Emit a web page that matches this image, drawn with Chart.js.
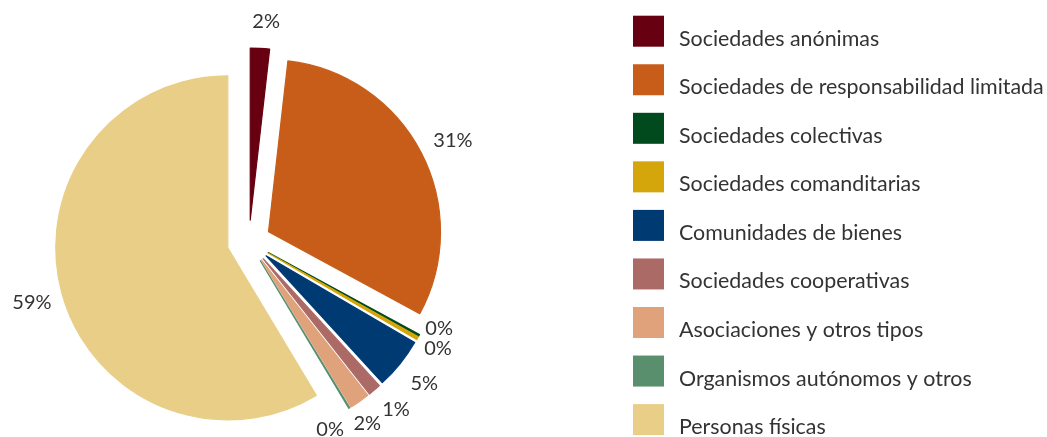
<!DOCTYPE html>
<html>
<head>
<meta charset="utf-8">
<script src="https://cdn.jsdelivr.net/npm/chart.js@4.4.1/dist/chart.umd.min.js"></script>
<style>
html,body{margin:0;padding:0;background:#ffffff;overflow:hidden;}
canvas{display:block;}
</style>
</head>
<body>
<canvas id="c" width="1047" height="437"></canvas>
<script>
// ---- data ----
const categories = [
  'Sociedades anónimas',
  'Sociedades de responsabilidad limitada',
  'Sociedades colectivas',
  'Sociedades comanditarias',
  'Comunidades de bienes',
  'Sociedades cooperativas',
  'Asociaciones y otros tipos',
  'Organismos autónomos y otros',
  'Personas físicas'
];
const shares = [1.8, 31.1, 0.2, 0.3, 4.8, 1.2, 1.9, 0.1, 58.6];
const colors = ['#670010', '#c85d19', '#004a1e', '#d4a60b', '#003a73', '#ac6a66', '#e0a27b', '#5a8f6e', '#e8ce87'];

// ---- layout / style ----
const PIE_RADIUS = 172;     // radius of every slice
const EXPLODE = 22;         // distance each slice is pulled out along its bisector
const labelAngleNudge = [1.2, 1.2, -4.3, -0.4, 0.1, -0.9, 1.7, 7.7, -0.2];
const labelDist = [221, 227.6, 209, 216.7, 225.4, 223.2, 217, 204, 225.4];
const FONT = 'Lato, "Open Sans", "DejaVu Sans", sans-serif';

function pieCenter(chart) {
  const a = chart.chartArea;
  return { x: (a.left + a.right) / 2, y: (a.top + a.bottom) / 2 };
}

// Excel-style explosion: move every slice outward along its bisector, keeping its angle and radius
const explode = {
  id: 'explode',
  afterDatasetUpdate(chart, args) {
    const c = pieCenter(chart);
    args.meta.data.forEach((arc) => {
      const mid = (arc.startAngle + arc.endAngle) / 2;
      arc.x = c.x + Math.cos(mid) * EXPLODE;
      arc.y = c.y + Math.sin(mid) * EXPLODE;
    });
  }
};

const labelPlugin = {
  id: 'pctLabels',
  afterDatasetsDraw(chart) {
    const ctx = chart.ctx;
    const c = pieCenter(chart);
    const meta = chart.getDatasetMeta(0);
    const data = chart.data.datasets[0].data;
    const total = data.reduce((a, b) => a + b, 0);
    ctx.save();
    ctx.font = '20px ' + FONT;
    ctx.fillStyle = '#333333';
    ctx.textAlign = 'center';
    ctx.textBaseline = 'middle';
    meta.data.forEach((arc, i) => {
      const mid = (arc.startAngle + arc.endAngle) / 2 + labelAngleNudge[i] * Math.PI / 180;
      const d = labelDist[i];
      const txt = Math.round(data[i] * 100 / total) + '%';
      ctx.fillText(txt, c.x + Math.cos(mid) * d, c.y + Math.sin(mid) * d);
    });
    ctx.restore();
  }
};

const legendPlugin = {
  id: 'sideLegend',
  afterDraw(chart) {
    const ctx = chart.ctx;
    ctx.save();
    ctx.font = '21.4px ' + FONT;
    ctx.textAlign = 'left';
    ctx.textBaseline = 'alphabetic';
    chart.data.labels.forEach((lab, i) => {
      const top = 15.7 + i * 48.55;
      ctx.fillStyle = chart.data.datasets[0].backgroundColor[i];
      ctx.fillRect(633, top, 31, 31);
      ctx.fillStyle = '#333333';
      ctx.fillText(lab, 679, top + 30);
    });
    ctx.restore();
  }
};

new Chart(document.getElementById('c'), {
  type: 'pie',
  data: {
    labels: categories,
    datasets: [{
      data: shares,
      backgroundColor: colors,
      borderColor: colors,
      borderWidth: 1.2,
      borderJoinStyle: 'round',
      radius: PIE_RADIUS
    }]
  },
  options: {
    responsive: false,
    animation: false,
    radius: PIE_RADIUS,
    layout: { padding: { left: 0, right: 549, top: 47, bottom: 0 } },
    plugins: {
      legend: { display: false },
      tooltip: { enabled: false }
    }
  },
  plugins: [explode, labelPlugin, legendPlugin]
});
</script>
</body>
</html>
